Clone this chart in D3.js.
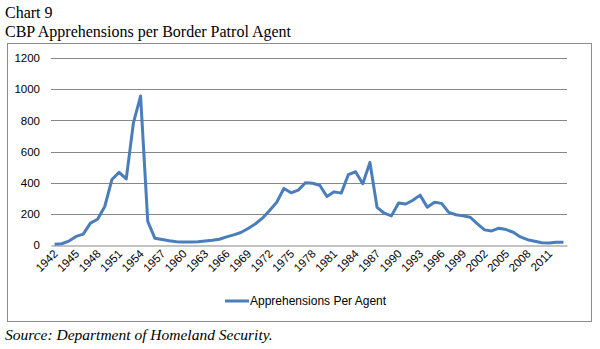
<!DOCTYPE html>
<html lang="en">
	<head>
		<meta charset="utf-8">
		<title>CBP Apprehensions per Border Patrol Agent</title>
		<script type="text/javascript" src="https://cdn.jsdelivr.net/npm/d3@7"></script>
		<style type="text/css">
			body { margin: 0; background: #fff; }
		</style>
	</head>
	<body>
	<script type="text/javascript">

	// fiscal years 1942 - 2013
	var years = d3.range(1942, 2014);

	var perAgent = [
		5, 8, 25, 55, 70, 140, 165, 247, 420, 466,
		424, 783, 956, 152, 43, 35, 27, 21, 19, 19,
		21, 26, 30, 37, 52, 65, 80, 106, 135, 172,
		222, 274, 363, 335, 352, 400, 396, 383, 311, 341,
		333, 452, 470, 393, 530, 241, 204, 187, 270, 263,
		287, 320, 243, 274, 267, 209, 194, 187, 178, 135,
		97, 90, 108, 99, 82, 52, 34, 24, 15, 13,
		17, 17
	];

	var yTicks = [0, 200, 400, 600, 800, 1000, 1200];
	var xTickYears = d3.range(1942, 2012, 3);

	var w = 600, h = 349;
	var svg = d3.select("body")
		.append("svg")
			.attr("width", w)
			.attr("height", h);

	// headings above the box
	svg.append("text")
		.attr("x", 5).attr("y", 18)
		.attr("font-family", "Liberation Serif, serif")
		.attr("font-size", "16px")
		.attr("fill", "#000")
		.text("Chart 9");
	svg.append("text")
		.attr("x", 5).attr("y", 37)
		.attr("font-family", "Liberation Serif, serif")
		.attr("font-size", "16px")
		.attr("fill", "#000")
		.text("CBP Apprehensions per Border Patrol Agent");

	// chart frame
	svg.append("rect")
		.attr("x", 7.5).attr("y", 43.5)
		.attr("width", 584).attr("height", 278)
		.attr("fill", "#fff")
		.attr("stroke", "#8c8c8c");

	var plot = {left: 51, right: 567, top: 58, bottom: 245};

	var x = d3.scaleBand()
		.domain(years)
		.range([plot.left, plot.right]);
	var y = d3.scaleLinear()
		.domain([0, 1200])
		.range([plot.bottom, plot.top]);

	var cx = function(yr) { return x(yr) + x.bandwidth() / 2; };

	// gridlines
	svg.append("g")
		.selectAll("line")
		.data(yTicks.slice(1))
		.enter()
		.append("line")
			.attr("x1", plot.left).attr("x2", plot.right)
			.attr("y1", function(d) { return Math.round(y(d)) + 0.5; })
			.attr("y2", function(d) { return Math.round(y(d)) + 0.5; })
			.attr("stroke", "#878787")
			.attr("stroke-width", 1);

	// y labels
	var yAxis = d3.axisLeft(y).tickValues(yTicks).tickFormat(d3.format("d"))
		.tickSize(0).tickPadding(11);
	var gy = svg.append("g")
		.attr("transform", "translate(" + plot.left + ",0)")
		.call(yAxis);
	gy.select(".domain").remove();
	gy.selectAll("text")
		.attr("font-family", "Liberation Sans, Arial, sans-serif")
		.attr("font-size", "11.5px")
		.attr("fill", "#000");

	// x axis with a label every third year
	var xAxis = d3.axisBottom(x).tickValues(xTickYears).tickSize(0).tickPadding(0);
	var gx = svg.append("g")
		.attr("transform", "translate(0," + (Math.round(y(0)) + 0.5) + ")")
		.call(xAxis);
	gx.select(".domain")
		.attr("stroke", "#878787");
	gx.selectAll("text")
		.attr("font-family", "Liberation Sans, Arial, sans-serif")
		.attr("font-size", "11.5px")
		.attr("fill", "#000")
		.attr("text-anchor", "end")
		.attr("dy", null)
		.attr("transform", "translate(4,9) rotate(-45)");

	var lineGenerator = d3.line()
		.x(function(d, i) { return cx(years[i]); })
		.y(function(d) { return y(d); });

	svg.append("path")
		.datum(perAgent)
		.attr("d", lineGenerator)
		.attr("fill", "none")
		.attr("stroke", "#4a7ebb")
		.attr("stroke-width", 3)
		.attr("stroke-linejoin", "round");

	// legend
	svg.append("line")
		.attr("x1", 225).attr("x2", 249)
		.attr("y1", 301).attr("y2", 301)
		.attr("stroke", "#4a7ebb")
		.attr("stroke-width", 3);
	svg.append("text")
		.attr("x", 250).attr("y", 305)
		.attr("font-family", "Liberation Sans, Arial, sans-serif")
		.attr("font-size", "12px")
		.attr("fill", "#000")
		.text("Apprehensions Per Agent");

	svg.append("text")
		.attr("x", 5).attr("y", 340)
		.attr("font-family", "Liberation Serif, serif")
		.attr("font-style", "italic")
		.attr("font-size", "15.5px")
		.attr("fill", "#000")
		.text("Source: Department of Homeland Security.");

	</script>
	</body>
</html>
